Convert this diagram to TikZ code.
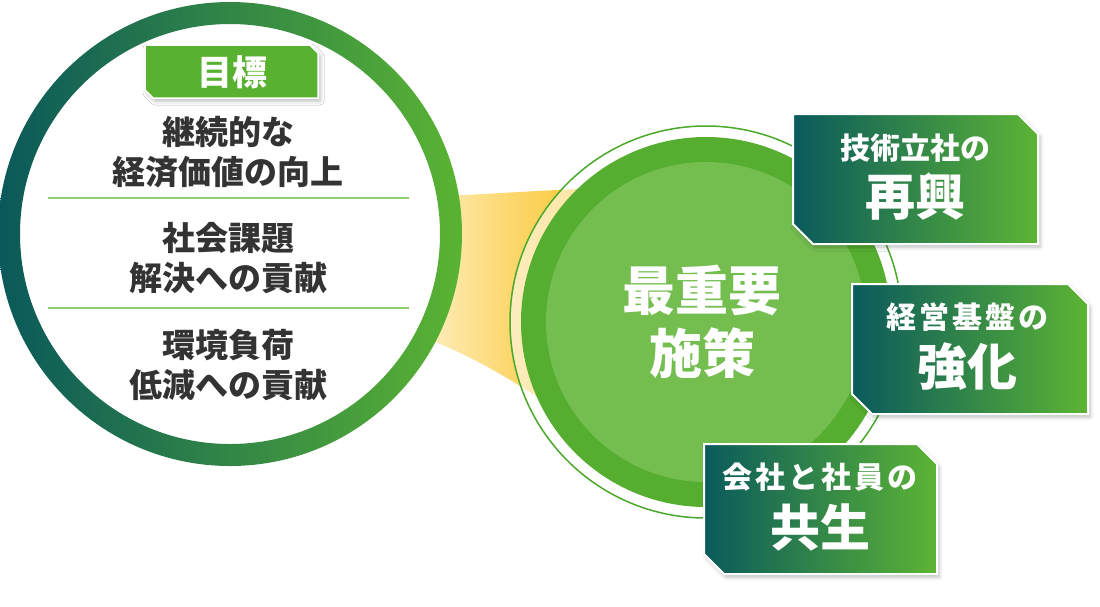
\documentclass[tikz,border=0pt]{standalone}
\usepackage{fontspec}
\newfontfamily\cjk{Noto Sans CJK JP}
\usetikzlibrary{shadows.blur}
\definecolor{dteal}{RGB}{10,90,92}
\definecolor{lgreen}{RGB}{92,180,52}
\definecolor{ringl}{RGB}{10,88,90}
\definecolor{ringr}{RGB}{90,180,50}
\definecolor{diskd}{RGB}{85,174,47}
\definecolor{diskl}{RGB}{116,190,80}
\definecolor{sepline}{RGB}{143,205,111}
\definecolor{txtdark}{RGB}{51,51,51}
\definecolor{labelg}{RGB}{89,178,47}
\definecolor{rline}{RGB}{74,168,42}
\definecolor{funl}{RGB}{254,238,190}
\definecolor{funr}{RGB}{250,200,55}
\tikzset{
  chamf/.style n args={5}{insert path={(#1,#2) -- ({#3-#5},#2) -- (#3,{#2+#5}) -- (#3,#4) -- ({#1+#5},#4) -- (#1,{#4-#5}) -- cycle}},
  myshadow/.style={blur shadow={shadow xshift=2pt, shadow yshift=-3pt, shadow blur radius=4pt, shadow opacity=28}},
  gbox/.style={myshadow, left color=dteal, right color=lgreen, draw=white, line width=2pt},
  goaltxt/.style={font=\cjk\bfseries\fontsize{33}{40}\selectfont, text=txtdark, inner sep=0pt},
  boxsmall/.style={font=\cjk\bfseries\fontsize{30}{36}\selectfont, text=white, inner sep=0pt},
  boxsmallsp/.style={font=\cjk\bfseries\fontsize{30}{36}\selectfont\addfontfeatures{LetterSpace=10}, text=white, inner sep=0pt},
  boxbig/.style={font=\cjk\bfseries\fontsize{50}{60}\selectfont, text=white, inner sep=0pt},
  centertxt/.style={font=\cjk\bfseries\fontsize{53}{63}\selectfont, text=white, inner sep=0pt},
}
\begin{document}
\begin{tikzpicture}[x=1pt,y=-1pt]
\useasboundingbox (0,0) rectangle (1100,606);
% funnel
\shade[left color=funl, right color=funr, middle color=funr!55!funl] (425,197) .. controls (490,194) and (530,191) .. (580,189) -- (580,430) -- (560,412) .. controls (510,378) and (470,355) .. (425,338) -- cycle;
% left circle
\coordinate (lc) at (230,234);
\fill[white] (lc) circle (211);
\shade[left color=ringl, right color=ringr, even odd rule] (lc) circle (232) (lc) circle (210);
% goal label
\path[myshadow, fill=labelg, draw=white, line width=1.5pt, chamf={145}{45}{318}{98}{8}];
\node[font=\cjk\bfseries\fontsize{35}{40}\selectfont, text=white, inner sep=0pt] (goal) at (232,72) {目標};
% goal texts
\node[goaltxt] (g1a) at (228,132) {継続的な};
\node[goaltxt] (g1b) at (228,172) {経済価値の向上};
\coordinate (s1l) at (48,198);
\coordinate (s1r) at (409,198);
\draw[sepline, line width=2pt] (s1l) -- (s1r);
\node[goaltxt] (g2a) at (228,238) {社会課題};
\node[goaltxt] (g2b) at (228,278) {解決への貢献};
\coordinate (s2l) at (48,308);
\coordinate (s2r) at (409,308);
\draw[sepline, line width=2pt] (s2l) -- (s2r);
\node[goaltxt] (g3a) at (228,345) {環境負荷};
\node[goaltxt] (g3b) at (228,385) {低減への貢献};
% right circle
\coordinate (rc) at (706,322);
\fill[white, opacity=0.55] (rc) circle (196);
\draw[rline, line width=1.5pt] (rc) circle (196);
\fill[diskd] (rc) circle (185);
\fill[diskl] (rc) circle (160);
\node[centertxt] (c1) at (702,290) {最重要};
\node[centertxt] (c2) at (702,353) {施策};
% box 1
\path[gbox, chamf={793}{114}{1038}{244}{20}];
\node[boxsmall] (b1a) at (915,148) {技術立社の};
\node[boxbig] (b1b) at (915,197) {再興};
% box 2
\path[gbox, chamf={852}{284}{1088}{414}{20}];
\node[boxsmallsp] (b2a) at (967,317) {経営基盤の};
\node[boxbig] (b2b) at (967,367) {強化};
% box 3
\path[gbox, chamf={704}{444}{937}{574}{20}];
\node[boxsmallsp] (b3a) at (820,477) {会社と社員の};
\node[boxbig] (b3b) at (820,527) {共生};
\end{tikzpicture}
\end{document}
